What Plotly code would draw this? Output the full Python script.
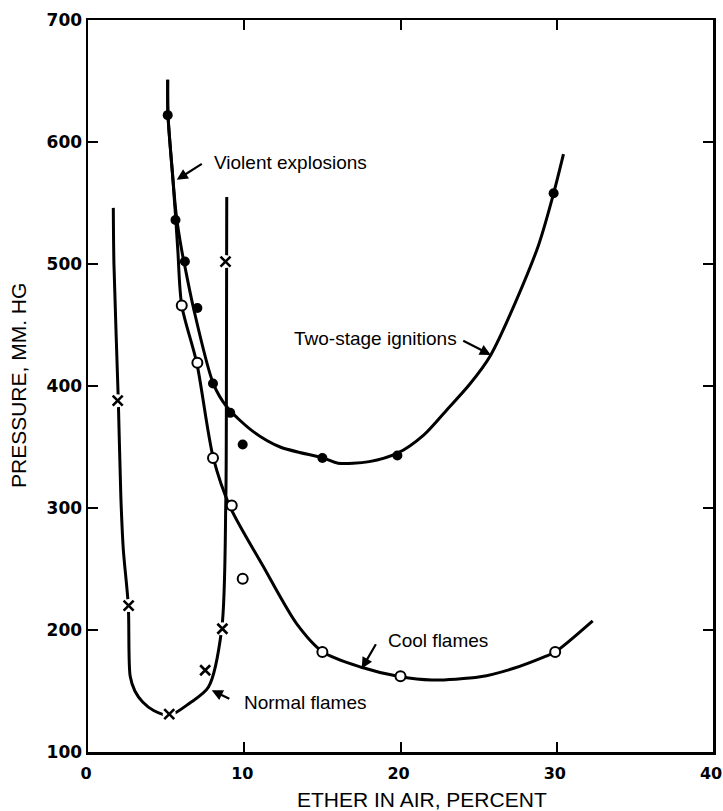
import plotly.graph_objects as go

# ---------------- data ----------------
x_ticks = [0, 10, 20, 30, 40]
y_ticks = [100, 200, 300, 400, 500, 600, 700]

# measured points
violent_x = [5.1, 5.6, 6.2, 7.0, 8.0, 9.1, 9.9, 15.0, 19.8, 29.8]
violent_y = [622, 536, 502, 464, 402, 378, 352, 341, 343, 558]

cool_x = [6.0, 7.0, 8.0, 9.2, 9.9, 15.0, 20.0, 29.9]
cool_y = [466, 419, 341, 302, 242, 182, 162, 182]

normal_x = [1.9, 2.6, 5.2, 7.5, 8.6, 8.8]
normal_y = [388, 220, 131, 167, 201, 502]

# hand-drawn fitted curves
cool_curve_x = [5.1, 5.12, 5.4, 5.6, 5.75, 6.0, 6.96, 8.02, 9.09, 11.22, 13.36,
                15.03, 17.5, 20.0, 22.0, 25.1, 27.2, 29.2, 29.9, 32.3]
cool_curve_y = [651, 622, 575, 540, 511, 466, 419, 341, 301, 252, 205,
                182, 169.5, 161.6, 159, 161.6, 168.4, 178, 182, 207.5]

two_stage_curve_x = [5.1, 5.12, 5.4, 5.65, 6.0, 6.17, 6.75, 8.02, 8.88, 10.58, 12.3, 15.1,
                     16.0, 18.0, 19.8, 21.5, 22.96, 24.4, 25.78, 28.73, 29.8, 30.43]
two_stage_curve_y = [651, 622, 575, 540, 511, 500, 464, 402, 383, 362.6, 350, 340.8,
                     336.7, 338, 344.9, 360, 380.4, 401, 425.5, 511.7, 558, 590]

normal_curve_x = [1.62, 1.66, 1.94, 2.1, 2.26, 2.58, 2.7, 3.0, 3.5, 4.2, 5.2, 6.5, 7.7,
                  8.56, 8.82, 8.86, 8.88]
normal_curve_y = [546, 500, 388, 310, 266, 220, 162, 150, 141, 134, 130, 140, 153,
                  201, 306, 420, 555]

# labels: (text, x, y)
labels = [
    ("Violent explosions", 7.92, 583.6),
    ("Two-stage ignitions", 13.04, 439.2),
    ("Cool flames", 19.08, 191.7),
    ("Normal flames", 9.84, 140.2),
]
# pointers: (tail x, tail y, head x, head y)
pointers = [
    (7.38, 582.8, 5.68, 569.0),
    (23.92, 437.8, 25.78, 425.5),
    (18.48, 189.5, 17.52, 168.4),
    (9.14, 143.0, 7.92, 150.6),
]

# ---------------- figure ----------------
fig = go.Figure()

line_style = dict(color="black", width=3, shape="spline", smoothing=0.8)
for cx, cy in [(cool_curve_x, cool_curve_y),
               (two_stage_curve_x, two_stage_curve_y),
               (normal_curve_x, normal_curve_y)]:
    fig.add_trace(go.Scatter(x=cx, y=cy, mode="lines", line=line_style,
                             hoverinfo="skip", showlegend=False))

# filled circles
fig.add_trace(go.Scatter(x=violent_x, y=violent_y, mode="markers",
                         marker=dict(symbol="circle", size=10, color="black"),
                         showlegend=False))
# open circles
fig.add_trace(go.Scatter(x=cool_x, y=cool_y, mode="markers",
                         marker=dict(symbol="circle", size=10, color="white",
                                     line=dict(color="black", width=2)),
                         showlegend=False))
# crosses with a white halo
fig.add_trace(go.Scatter(x=normal_x, y=normal_y, mode="markers",
                         marker=dict(symbol="circle", size=13, color="white"),
                         hoverinfo="skip", showlegend=False))
fig.add_trace(go.Scatter(x=normal_x, y=normal_y, mode="markers",
                         marker=dict(symbol="x-thin", size=10, color="black",
                                     line=dict(color="black", width=2.6)),
                         showlegend=False))

annotations = []
for text, lx, ly in labels:
    annotations.append(dict(x=lx, y=ly, xref="x", yref="y", text=text,
                            showarrow=False, xanchor="left", yanchor="middle",
                            font=dict(family="Liberation Sans, Arial", size=19,
                                      color="black")))
for tx, ty, hx, hy in pointers:
    annotations.append(dict(x=hx, y=hy, ax=tx, ay=ty, xref="x", yref="y",
                            axref="x", ayref="y", text="", showarrow=True,
                            arrowhead=2, arrowsize=1, arrowwidth=2.2,
                            arrowcolor="black", standoff=0, startstandoff=0))

# axis titles
annotations.append(dict(x=0.534, y=-0.065, xref="paper", yref="paper",
                        text="ETHER IN AIR, PERCENT", showarrow=False,
                        xanchor="center", yanchor="middle",
                        font=dict(family="Liberation Sans, Arial", size=21,
                                  color="black")))
annotations.append(dict(x=-0.112, y=0.5, xref="paper", yref="paper",
                        text="PRESSURE, MM. HG", showarrow=False, textangle=-90,
                        xanchor="center", yanchor="middle",
                        font=dict(family="Liberation Sans, Arial", size=21,
                                  color="black")))

axis_common = dict(showgrid=False, zeroline=False, showline=True, linecolor="black",
                   linewidth=2.5, mirror="allticks", ticks="inside", ticklen=10,
                   tickwidth=2, tickcolor="black", automargin=False,
                   ticklabeloverflow="allow")

fig.update_layout(
    width=723, height=811,
    margin=dict(l=88, r=10, t=20, b=59),
    plot_bgcolor="white", paper_bgcolor="white",
    xaxis=dict(range=[0, 40], tickvals=x_ticks, ticktext=[str(v) for v in x_ticks],
               ticklabelstandoff=5, ticklabelshift=-2,
               tickfont=dict(family="DejaVu Sans", size=16, color="black",
                             weight="bold"),
               **axis_common),
    yaxis=dict(range=[100, 700], tickvals=y_ticks, ticktext=[str(v) for v in y_ticks],
               tickfont=dict(family="DejaVu Sans", size=17, color="black",
                             weight="bold"),
               **axis_common),
    annotations=annotations,
    showlegend=False,
)

fig.write_html("out.html",
               config={"displayModeBar": False, "staticPlot": True},
               post_script="document.body.style.margin='0';"
                           "document.body.style.overflow='hidden';")
